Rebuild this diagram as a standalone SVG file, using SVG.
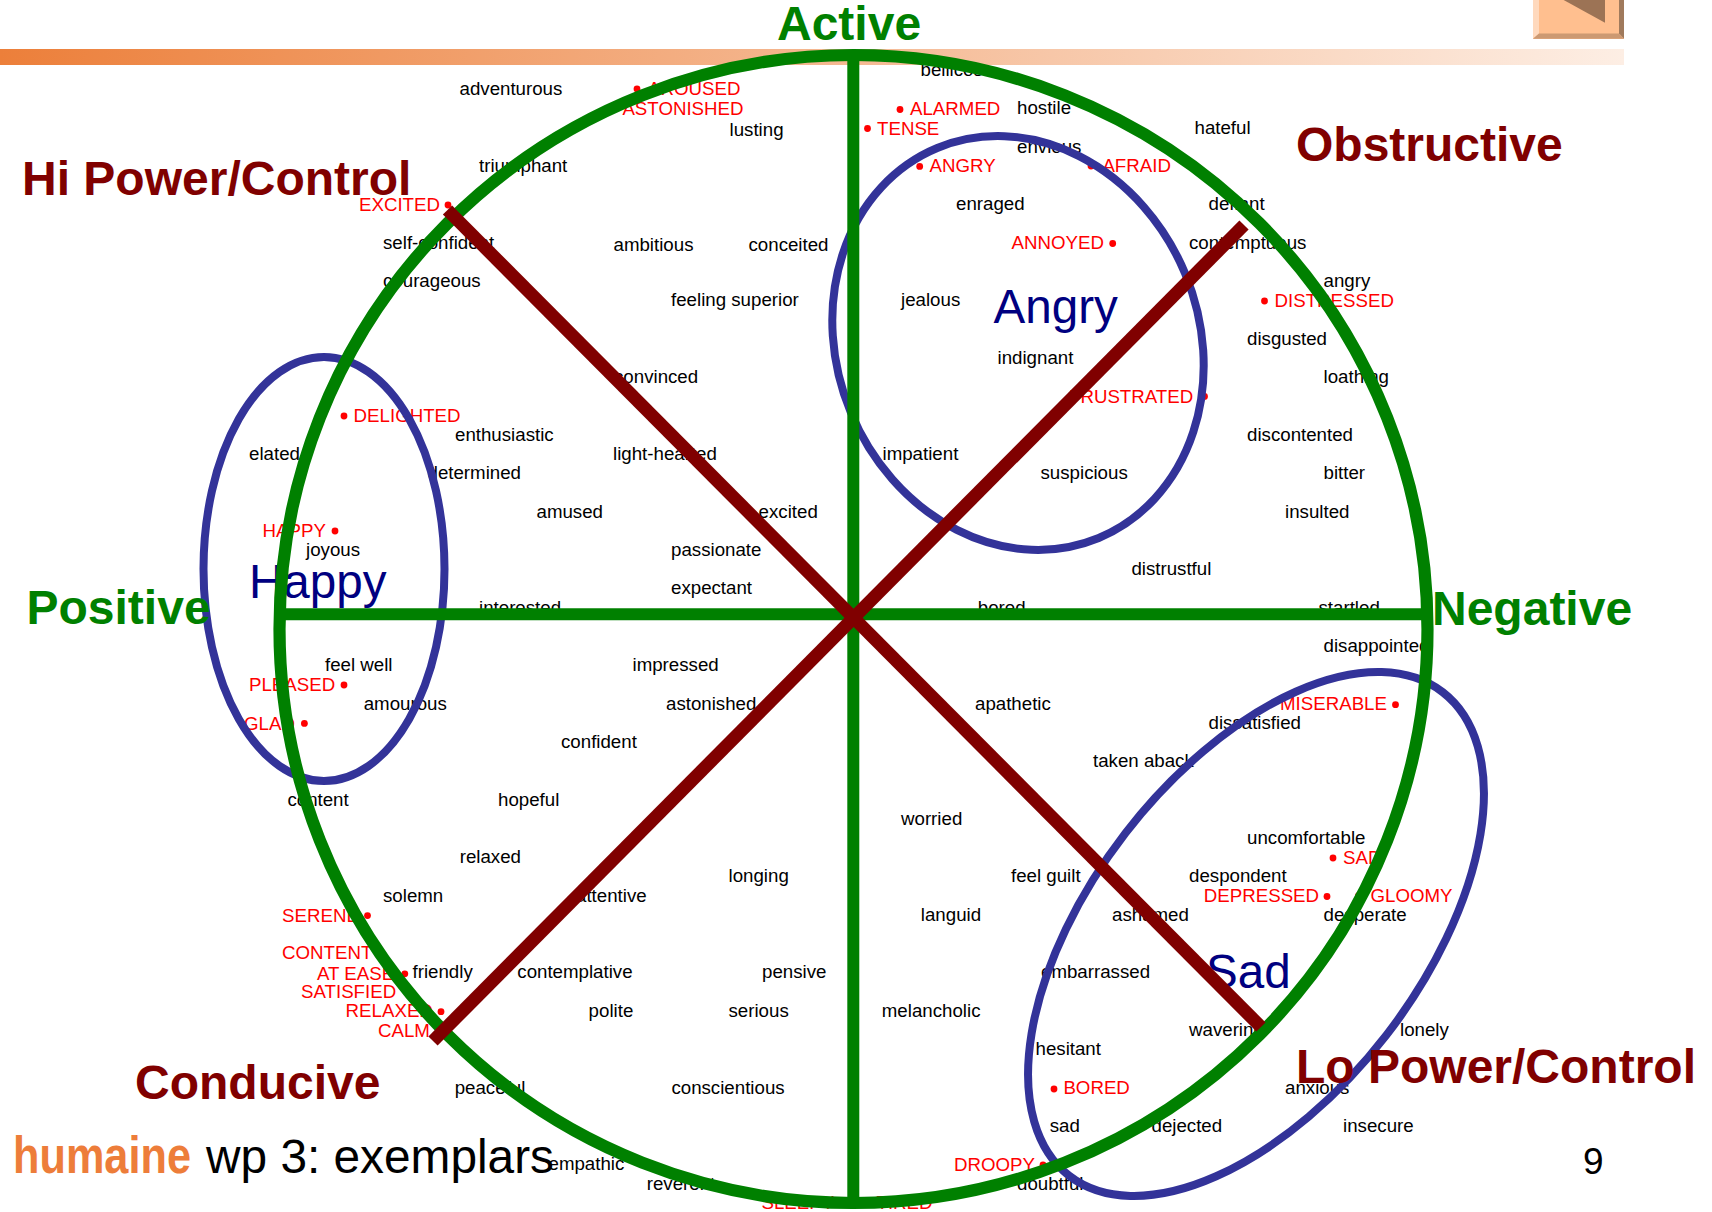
<svg xmlns="http://www.w3.org/2000/svg" width="1712" height="1212" viewBox="0 0 1712 1212">
<defs>
<linearGradient id="barGrad" x1="0" y1="0" x2="1" y2="0"><stop offset="0" stop-color="#ec7f3a"/><stop offset="1" stop-color="#fdeee4"/></linearGradient>
</defs>
<style>
text{font-family:"Liberation Sans",Arial,sans-serif}
.w{font-size:18.7px;fill:#000}
.s{font-size:18.7px;fill:#f00}
.d{fill:#f00}
.m{font-size:47.6px;fill:#000080}
.g{font-size:48px;font-weight:bold;fill:#008000}
.b{font-size:48px;font-weight:bold;fill:#800000}
.e{fill:none;stroke:#333399;stroke-width:8}
.ax{stroke:#008000;stroke-width:12;fill:none}
.ci{stroke:#008000;stroke-width:12.2;fill:none}
.di{stroke:#800000;stroke-width:13;fill:none}
</style>
<rect width="1712" height="1212" fill="#fff"/>
<g id="button">
<rect x="1533" y="-2" width="91" height="41" fill="#ffbf8f"/>
<polygon points="1533,-2 1539,-2 1539,33.5 1533,38.7" fill="#ffd9bd"/>
<polygon points="1619,-2 1624,-2 1624,38.7 1619,33.5" fill="#a07a5c"/>
<polygon points="1533,38.7 1624,38.7 1619,33.5 1539,33.5" fill="#cc9972"/>
<polygon points="1560,-2 1605,-2 1605,22.7" fill="#9c7355"/>
</g>
<g id="words">
<text class="w" x="459.5" y="95">adventurous</text>
<text class="w" x="729.5" y="135.5">lusting</text>
<text class="w" x="479" y="172">triumphant</text>
<text class="w" x="383" y="249">self-confident</text>
<text class="w" x="383" y="287">courageous</text>
<text class="w" x="613.5" y="251">ambitious</text>
<text class="w" x="748.5" y="251">conceited</text>
<text class="w" x="671" y="306">feeling superior</text>
<text class="w" x="614" y="382.6">convinced</text>
<text class="w" x="455" y="440.7">enthusiastic</text>
<text class="w" x="249" y="459.7">elated</text>
<text class="w" x="613" y="459.7">light-hearted</text>
<text class="w" x="427.5" y="479">determined</text>
<text class="w" x="536.5" y="518">amused</text>
<text class="w" x="758.6" y="518">excited</text>
<text class="w" x="306" y="556">joyous</text>
<text class="w" x="671" y="556">passionate</text>
<text class="w" x="671" y="594">expectant</text>
<text class="w" x="479" y="614">interested</text>
<text class="w" x="920.5" y="76">bellicose</text>
<text class="w" x="1017" y="114">hostile</text>
<text class="w" x="1194.5" y="133.6">hateful</text>
<text class="w" x="1017" y="153">envious</text>
<text class="w" x="956" y="210">enraged</text>
<text class="w" x="1208.5" y="210">defiant</text>
<text class="w" x="1189" y="249">contemptuous</text>
<text class="w" x="901" y="306">jealous</text>
<text class="w" x="1323.5" y="287">angry</text>
<text class="w" x="1247" y="344.7">disgusted</text>
<text class="w" x="997.5" y="363.6">indignant</text>
<text class="w" x="1323.5" y="382.6">loathing</text>
<text class="w" x="1247" y="440.7">discontented</text>
<text class="w" x="882.5" y="459.7">impatient</text>
<text class="w" x="1040.5" y="479">suspicious</text>
<text class="w" x="1323.5" y="479">bitter</text>
<text class="w" x="1285" y="518">insulted</text>
<text class="w" x="1131.4" y="575">distrustful</text>
<text class="w" x="977.8" y="614">bored</text>
<text class="w" x="1318.5" y="614">startled</text>
<text class="w" x="325" y="671">feel well</text>
<text class="w" x="632.5" y="671">impressed</text>
<text class="w" x="363.7" y="710">amourous</text>
<text class="w" x="666" y="710">astonished</text>
<text class="w" x="561" y="748.4">confident</text>
<text class="w" x="287.4" y="806">content</text>
<text class="w" x="498" y="806">hopeful</text>
<text class="w" x="459.7" y="863">relaxed</text>
<text class="w" x="728.5" y="882">longing</text>
<text class="w" x="383" y="902">solemn</text>
<text class="w" x="576" y="902">attentive</text>
<text class="w" x="412.5" y="978">friendly</text>
<text class="w" x="517.3" y="978">contemplative</text>
<text class="w" x="762" y="978">pensive</text>
<text class="w" x="588.6" y="1017">polite</text>
<text class="w" x="728.5" y="1017">serious</text>
<text class="w" x="454.7" y="1094">peaceful</text>
<text class="w" x="671.4" y="1094">conscientious</text>
<text class="w" x="548.5" y="1170">empathic</text>
<text class="w" x="646.7" y="1190">reverent</text>
<text class="w" x="1323.5" y="652">disappointed</text>
<text class="w" x="975" y="710">apathetic</text>
<text class="w" x="1208.5" y="729">dissatisfied</text>
<text class="w" x="1093" y="767">taken aback</text>
<text class="w" x="901" y="825">worried</text>
<text class="w" x="1247" y="844">uncomfortable</text>
<text class="w" x="1011" y="882.4">feel guilt</text>
<text class="w" x="1189" y="882.4">despondent</text>
<text class="w" x="920.8" y="921">languid</text>
<text class="w" x="1112" y="921">ashamed</text>
<text class="w" x="1323.5" y="921">desperate</text>
<text class="w" x="1041" y="978">embarrassed</text>
<text class="w" x="881.8" y="1017">melancholic</text>
<text class="w" x="1189" y="1036">wavering</text>
<text class="w" x="1400" y="1036">lonely</text>
<text class="w" x="1035.5" y="1055">hesitant</text>
<text class="w" x="1285" y="1094">anxious</text>
<text class="w" x="1049.7" y="1132">sad</text>
<text class="w" x="1151.5" y="1132">dejected</text>
<text class="w" x="1343" y="1132">insecure</text>
<text class="w" x="1017" y="1190">doubtful</text>
</g>
<g id="states">
<circle class="d" cx="637" cy="89" r="3.4"/><text class="s" x="648" y="95">AROUSED</text>
<text class="s" x="622.4" y="114.6">ASTONISHED</text>
<circle class="d" cx="448" cy="205" r="3.4"/><text class="s" x="359" y="210.7">EXCITED</text>
<circle class="d" cx="344" cy="416" r="3.4"/><text class="s" x="353.6" y="421.7">DELIGHTED</text>
<circle class="d" cx="335" cy="531" r="3.4"/><text class="s" x="262.6" y="537">HAPPY</text>
<circle class="d" cx="900" cy="109.5" r="3.4"/><text class="s" x="910" y="114.6">ALARMED</text>
<circle class="d" cx="867.5" cy="128.5" r="3.4"/><text class="s" x="877" y="135">TENSE</text>
<circle class="d" cx="919.7" cy="166.4" r="3.4"/><text class="s" x="929.5" y="172">ANGRY</text>
<circle class="d" cx="1091" cy="166" r="3.4"/><text class="s" x="1102.4" y="172">AFRAID</text>
<circle class="d" cx="1112.7" cy="243.5" r="3.4"/><text class="s" x="1011.6" y="249">ANNOYED</text>
<circle class="d" cx="1264.5" cy="301" r="3.4"/><text class="s" x="1274.5" y="306.7">DISTRESSED</text>
<circle class="d" cx="1204.5" cy="396.4" r="3.4"/><text class="s" x="1069" y="403">FRUSTRATED</text>
<circle class="d" cx="344" cy="685" r="3.4"/><text class="s" x="249" y="690.6">PLEASED</text>
<circle class="d" cx="304.4" cy="723.4" r="3.4"/><text class="s" x="244" y="729.5">GLAD</text>
<circle class="d" cx="367.5" cy="915.6" r="3.4"/><text class="s" x="282" y="921.8">SERENE</text>
<text class="s" x="282" y="959.4">CONTENT</text>
<circle class="d" cx="404.8" cy="973.8" r="3.4"/><text class="s" x="317" y="979.7">AT EASE</text>
<text class="s" x="301" y="998.4">SATISFIED</text>
<circle class="d" cx="441" cy="1011.7" r="3.4"/><text class="s" x="345.6" y="1017">RELAXED</text>
<text class="s" x="378" y="1036.5">CALM</text>
<text class="s" x="761.5" y="1209">SLEEPY</text>
<text class="s" x="876.5" y="1209">TIRED</text>
<circle class="d" cx="1395.5" cy="704.7" r="3.4"/><text class="s" x="1280" y="710">MISERABLE</text>
<circle class="d" cx="1333" cy="858" r="3.4"/><text class="s" x="1343" y="863.5">SAD</text>
<circle class="d" cx="1327" cy="896.5" r="3.4"/><text class="s" x="1203.8" y="901.6">DEPRESSED</text>
<circle class="d" cx="1358.5" cy="895.7" r="3.4"/><text class="s" x="1370.5" y="901.6">GLOOMY</text>
<circle class="d" cx="1054" cy="1089" r="3.4"/><text class="s" x="1063.4" y="1094">BORED</text>
<circle class="d" cx="1043" cy="1165" r="3.4"/><text class="s" x="954" y="1171">DROOPY</text>
</g>
<g id="moods">
<text class="m" x="993.5" y="323">Angry</text>
<text class="m" x="249" y="598">Happy</text>
<text class="m" x="1206" y="988">Sad</text>
</g>
<rect id="title-bar" x="0" y="49" width="1624" height="16" fill="url(#barGrad)"/>
<g id="regions">
<ellipse id="region-happy" class="e" cx="324" cy="569" rx="120.5" ry="212"/>
<ellipse id="region-angry" class="e" cx="1018" cy="343" rx="181" ry="211" transform="rotate(-22.5 1018 343)"/>
<ellipse id="region-sad" class="e" cx="1256" cy="934" rx="165" ry="305.5" transform="rotate(37.7 1256 934)"/>
</g>
<g id="connectors">
<ellipse class="ci" cx="853.5" cy="629" rx="574" ry="574"/>
<line class="ax" x1="853.3" y1="55" x2="853.3" y2="1203"/>
<line class="ax" x1="280" y1="614.2" x2="1426" y2="614.2"/>
<line class="di" x1="447.5" y1="210" x2="1261" y2="1027"/>
<line class="di" x1="1244" y1="225" x2="433" y2="1041"/>
</g>
<g id="labels">
<text class="g" x="777" y="40">Active</text>
<text class="g" x="26.5" y="624">Positive</text>
<text class="g" x="1432" y="625">Negative</text>
<text class="b" x="22" y="194.5">Hi Power/Control</text>
<text class="b" x="1296" y="161">Obstructive</text>
<text class="b" x="135" y="1099">Conducive</text>
<text class="b" x="1296" y="1083">Lo Power/Control</text>
</g>
<g id="footer">
<text x="13" y="1173" font-size="52" font-weight="bold" fill="#ed7d3a" textLength="178" lengthAdjust="spacingAndGlyphs">humaine</text>
<text x="206" y="1173" font-size="47.8" fill="#000">wp 3: exemplars</text>
<text x="1583" y="1174" font-size="37" fill="#000">9</text>
</g>
</svg>
